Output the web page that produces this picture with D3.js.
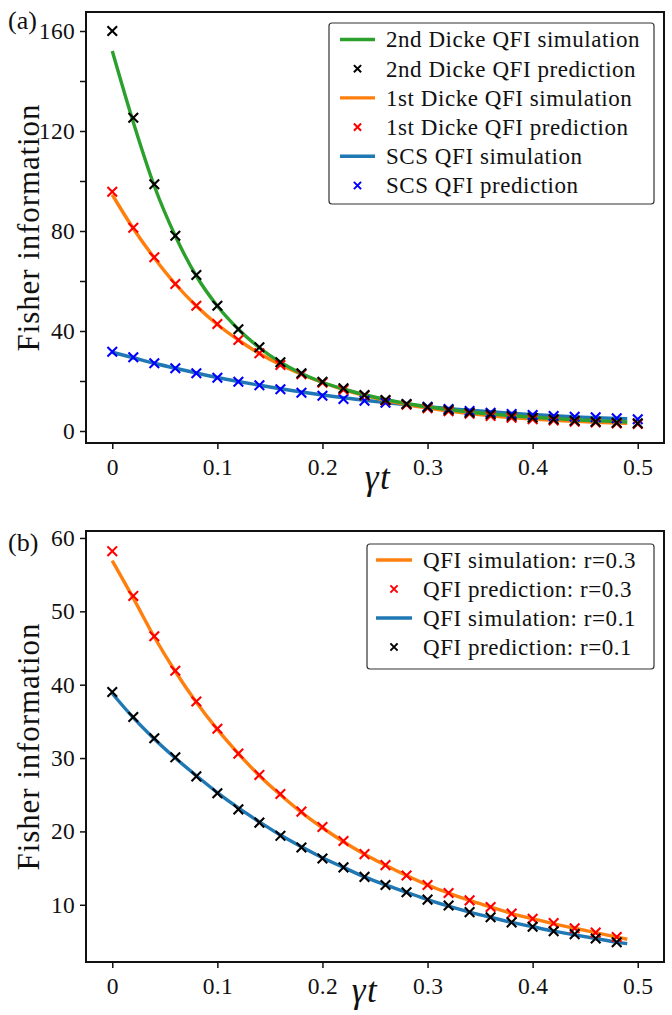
<!DOCTYPE html>
<html><head><meta charset="utf-8">
<script src="https://cdn.jsdelivr.net/npm/d3@7"></script>
<style>
html,body{margin:0;padding:0;background:#fff;}
svg text{font-family:"Liberation Serif","DejaVu Serif",serif;fill:#111;}
</style></head>
<body>
<svg id="chart" width="672" height="1015"></svg>
<script>
// ---------- data ----------
const predX = [0,0.02,0.04,0.06,0.08,0.10,0.12,0.14,0.16,0.18,0.20,0.22,0.24,0.26,0.28,0.30,0.32,0.34,0.36,0.38,0.40,0.42,0.44,0.46,0.48,0.50];
const lineX = [0,0.02,0.04,0.06,0.08,0.10,0.12,0.14,0.16,0.18,0.20,0.22,0.24,0.26,0.28,0.30,0.32,0.34,0.36,0.38,0.40,0.42,0.44,0.46,0.48,0.49];

// panel (a)
const dicke2Sim  = [152,123.5,98,78,62,50,40.7,33.3,27.5,23,19.5,16.8,14.5,12.6,11,9.7,8.6,7.6,6.8,6.1,5.5,5.0,4.5,4.1,3.8,3.6];
const dicke2Pred = [160,125.3,98.7,78.1,62.4,50.1,40.7,33.5,27.5,23.1,19.7,17.1,14.4,12.4,10.8,9.5,8.4,7.3,6.7,6.0,5.3,4.7,4.1,3.7,3.3,3.1];
const dicke1Sim  = [94.5,81,69.2,58.8,50,42.6,36.4,31,26.5,22.7,19.4,16.6,14.3,12.3,10.6,9.2,8,7,6.1,5.4,4.8,4.3,3.9,3.5,3.2,3.1];
const dicke1Pred = [95.7,81.3,69.5,58.8,50.1,42.8,36.4,31.1,26.4,22.7,19.3,16.5,14.2,12.2,10.5,9.1,7.9,6.9,6.0,5.3,4.7,4.2,3.7,3.4,3.0,2.8];
const scsSim     = [31.5,29.3,27.1,25.1,23.2,21.4,19.8,18.3,16.9,15.6,14.4,13.3,12.3,11.4,10.5,9.7,9.0,8.3,7.7,7.1,6.6,6.1,5.7,5.3,5.0,4.9];
const scsPred    = [31.7,29.5,27.1,25.1,23.1,21.3,19.7,18.3,16.7,15.3,14.1,12.8,12.1,11.3,10.7,9.7,8.8,8.0,7.3,6.8,6.4,6.0,5.7,5.5,5.1,4.7];

// panel (b)
const predXb = predX.slice(0,25);
const r3Sim  = [56.9,51.8,46.5,41.8,37.6,33.9,30.6,27.6,25,22.6,20.5,18.6,16.9,15.4,14,12.7,11.6,10.6,9.7,8.8,8.1,7.4,6.8,6.2,5.6,5.3];
const r3Pred = [58.2,52.1,46.6,41.9,37.7,34.0,30.6,27.7,25.1,22.7,20.6,18.7,16.9,15.4,14.0,12.7,11.6,10.6,9.7,8.8,8.1,7.5,6.8,6.2,5.6];
const r1Sim  = [38.8,35.5,32.6,30,27.6,25.3,23.2,21.3,19.5,17.9,16.4,15.1,13.8,12.7,11.7,10.7,9.8,9.0,8.3,7.6,7.0,6.4,5.9,5.4,4.9,4.7];
const r1Pred = [39.0,35.6,32.7,30.1,27.5,25.2,23.0,21.2,19.4,17.8,16.3,15.1,13.8,12.7,11.7,10.7,9.9,9.0,8.3,7.6,7.0,6.4,6.0,5.4,4.9];

const xTicks = [0,0.1,0.2,0.3,0.4,0.5];
const yTicksA = [0,20,40,60,80,100,120,140,160];
const yLabelsA = [0,40,80,120,160];
const yTicksB = [10,20,30,40,50,60];

const legendA = ["2nd Dicke QFI simulation","2nd Dicke QFI prediction","1st Dicke QFI simulation","1st Dicke QFI prediction","SCS QFI simulation","SCS QFI prediction"];
const legendB = ["QFI simulation: r=0.3","QFI prediction: r=0.3","QFI simulation: r=0.1","QFI prediction: r=0.1"];

// ---------- drawing ----------
const svg = d3.select("#chart");
const C = {green:"#2ca02c", orange:"#ff7f0e", blue:"#1f77b4", red:"#ff0000", black:"#000000", pblue:"#0000ff"};
const crossPath = s => `M${-s},${-s}L${s},${s}M${s},${-s}L${-s},${s}`;

function panel(opt){
  const g = svg.append("g");
  const x = d3.scaleLinear().domain([-0.025,0.525]).range([86,664]);
  const y = d3.scaleLinear().domain(opt.ydom).range([opt.bottom,opt.top]);
  const line = d3.line().x(d=>x(d[0])).y(d=>y(d[1])).curve(d3.curveMonotoneX);

  const clip = "clip"+opt.id;
  g.append("clipPath").attr("id",clip).append("rect")
    .attr("x",86).attr("y",opt.top).attr("width",578).attr("height",opt.bottom-opt.top);
  const plot = g.append("g").attr("clip-path",`url(#${clip})`);

  opt.lines.forEach(L=>{
    plot.append("path").datum(lineX.map((v,i)=>[v,L.data[i]]))
      .attr("d",line).attr("fill","none").attr("stroke",L.color).attr("stroke-width",3.4);
  });
  opt.points.forEach(P=>{
    plot.append("g").selectAll("path").data(P.xs.map((v,i)=>[v,P.data[i]])).join("path")
      .attr("transform",d=>`translate(${x(d[0])},${y(d[1])})`)
      .attr("d",crossPath(4.8)).attr("stroke",P.color).attr("stroke-width",2.1).attr("fill","none");
  });

  // axes
  const xa = g.append("g").attr("transform",`translate(0,${opt.bottom})`)
    .call(d3.axisBottom(x).tickValues(xTicks).tickSize(6).tickPadding(5).tickFormat(d=>d===0?"0":d3.format(".1f")(d)));
  const ya = g.append("g").attr("transform",`translate(86,0)`)
    .call(d3.axisLeft(y).tickValues(opt.yticks).tickSize(6).tickPadding(5)
      .tickFormat(d=>opt.ylabels.includes(d)?String(d):""));
  [xa,ya].forEach(a=>{
    a.select(".domain").remove();
    a.selectAll(".tick line").attr("stroke","#111").attr("stroke-width",1.5);
    a.selectAll(".tick text").attr("font-size",23.5).attr("fill","#222")
      .style("font-family",'"Liberation Serif",serif').attr("letter-spacing",0.3);
  });
  xa.selectAll(".tick text").attr("dy","0.9em");
  // frame
  g.append("rect").attr("x",86).attr("y",opt.top).attr("width",578).attr("height",opt.bottom-opt.top)
    .attr("fill","none").attr("stroke","#111").attr("stroke-width",2);

  // labels
  g.append("text").attr("transform",`translate(39,${(opt.top+opt.bottom)/2}) rotate(-90)`)
    .attr("text-anchor","middle").attr("font-size",31).attr("fill","#222").attr("letter-spacing",0.9).text("Fisher information");
  const gt = g.append("text").attr("x",opt.gtX).attr("y",opt.gtY).attr("text-anchor","middle")
    .attr("font-size",35).attr("font-style","italic").attr("letter-spacing",1.5);
  gt.append("tspan").text("γ"); gt.append("tspan").text("t");
  g.append("text").attr("x",8).attr("y",opt.tagY).attr("font-size",26).attr("fill","#222").text(opt.tag);

  // legend
  const lg = opt.legend;
  g.append("rect").attr("x",lg.x0).attr("y",lg.y0).attr("width",lg.x1-lg.x0).attr("height",lg.y1-lg.y0)
    .attr("rx",3).attr("fill","#fff").attr("fill-opacity",0.85).attr("stroke","#333").attr("stroke-width",1.2);
  lg.items.forEach((it,i)=>{
    const cy = lg.rowY0 + i*lg.dy;
    if(it.type==="line"){
      g.append("line").attr("x1",lg.hx0).attr("x2",lg.hx1).attr("y1",cy).attr("y2",cy)
        .attr("stroke",it.color).attr("stroke-width",3.4);
    } else {
      g.append("path").attr("transform",`translate(${(lg.hx0+lg.hx1)/2},${cy})`)
        .attr("d",crossPath(3.6)).attr("stroke",it.color).attr("stroke-width",2);
    }
    g.append("text").attr("x",lg.tx).attr("y",cy).attr("dy","0.34em").attr("font-size",23)
      .attr("fill","#222").attr("letter-spacing",0.55).text(it.label);
  });
}

panel({
  id:"a", top:12, bottom:443, ydom:[-4.8,167.6],
  yticks:yTicksA, ylabels:yLabelsA,
  lines:[{data:scsSim,color:C.blue},{data:dicke1Sim,color:C.orange},{data:dicke2Sim,color:C.green}],
  points:[{xs:predX,data:scsPred,color:C.pblue},{xs:predX,data:dicke1Pred,color:C.red},{xs:predX,data:dicke2Pred,color:C.black}],
  gtX:378, gtY:489, tag:"(a)", tagY:29,
  legend:{x0:329,x1:654,y0:23,y1:204,hx0:340,hx1:375,tx:386,rowY0:39.5,dy:29.2,
    items:[{type:"line",color:C.green,label:legendA[0]},{type:"mark",color:C.black,label:legendA[1]},
           {type:"line",color:C.orange,label:legendA[2]},{type:"mark",color:C.red,label:legendA[3]},
           {type:"line",color:C.blue,label:legendA[4]},{type:"mark",color:C.pblue,label:legendA[5]}]}
});

panel({
  id:"b", top:531, bottom:962, ydom:[2.2,60.95],
  yticks:yTicksB, ylabels:yTicksB,
  lines:[{data:r3Sim,color:C.orange},{data:r1Sim,color:C.blue}],
  points:[{xs:predXb,data:r3Pred,color:C.red},{xs:predXb,data:r1Pred,color:C.black}],
  gtX:365, gtY:1002, tag:"(b)", tagY:551,
  legend:{x0:367,x1:654,y0:544,y1:669,hx0:376,hx1:412,tx:423,rowY0:560,dy:29,
    items:[{type:"line",color:C.orange,label:legendB[0]},{type:"mark",color:C.red,label:legendB[1]},
           {type:"line",color:C.blue,label:legendB[2]},{type:"mark",color:C.black,label:legendB[3]}]}
});
</script>
</body></html>
